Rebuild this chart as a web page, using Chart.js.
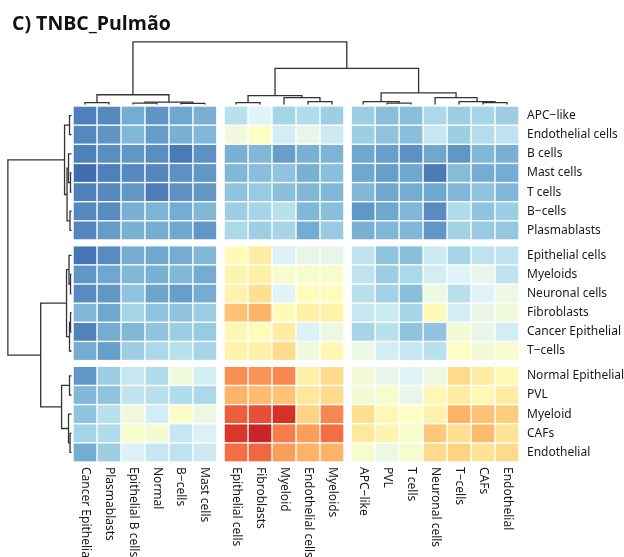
<!DOCTYPE html>
<html>
<head>
<meta charset="utf-8">
<script src="https://cdn.jsdelivr.net/npm/chart.js@4.4.0/dist/chart.umd.min.js"></script>
<style>
  html, body { margin: 0; padding: 0; background: #fff; }
  #wrap { width: 624px; height: 557px; }
</style>
</head>
<body>
<div id="wrap"><canvas id="heatChart" width="624" height="557"></canvas></div>
<script>
const title = 'C) TNBC_Pulmão';

const rowLabels = ['APC−like', 'Endothelial cells', 'B cells', 'Mast cells', 'T cells', 'B−cells', 'Plasmablasts',
  'Epithelial cells', 'Myeloids', 'Neuronal cells', 'Fibroblasts', 'Cancer Epithelial', 'T−cells',
  'Normal Epithelial', 'PVL', 'Myeloid', 'CAFs', 'Endothelial'];
const colLabels = ['Cancer Epithelial', 'Plasmablasts', 'Epithelial B cells', 'Normal', 'B−cells', 'Mast cells',
  'Epithelial cells', 'Fibroblasts', 'Myeloid', 'Endothelial cells', 'Myeloids',
  'APC−like', 'PVL', 'T cells', 'Neuronal cells', 'T−cells', 'CAFs', 'Endothelial'];

// cluster cut of rows / columns (the white gaps)
const rowBlocks = [0,0,0,0,0,0,0, 1,1,1,1,1,1, 2,2,2,2,2];
const colBlocks = [0,0,0,0,0,0, 1,1,1,1,1, 2,2,2,2,2,2,2];

// one row per rowLabels entry, one value per colLabels entry
const values = [
  [-0.76,-0.73,-0.60,-0.69,-0.62,-0.58, -0.35,-0.20,-0.42,-0.38,-0.45, -0.45,-0.52,-0.52,-0.40,-0.45,-0.42,-0.45],
  [-0.73,-0.69,-0.55,-0.66,-0.58,-0.55, -0.10,-0.02,-0.25,-0.15,-0.27, -0.45,-0.50,-0.52,-0.30,-0.45,-0.37,-0.33],
  [-0.76,-0.71,-0.68,-0.71,-0.78,-0.70, -0.58,-0.55,-0.65,-0.58,-0.57, -0.62,-0.65,-0.70,-0.62,-0.68,-0.55,-0.58],
  [-0.83,-0.76,-0.73,-0.74,-0.70,-0.68, -0.55,-0.52,-0.50,-0.58,-0.52, -0.62,-0.65,-0.62,-0.78,-0.53,-0.60,-0.60],
  [-0.76,-0.73,-0.68,-0.77,-0.70,-0.68, -0.50,-0.47,-0.52,-0.55,-0.55, -0.55,-0.62,-0.60,-0.62,-0.55,-0.50,-0.55],
  [-0.73,-0.72,-0.58,-0.57,-0.60,-0.55, -0.45,-0.42,-0.35,-0.55,-0.52, -0.68,-0.62,-0.55,-0.72,-0.38,-0.50,-0.45],
  [-0.74,-0.66,-0.58,-0.60,-0.62,-0.68, -0.40,-0.45,-0.42,-0.60,-0.47, -0.58,-0.55,-0.55,-0.68,-0.43,-0.47,-0.48],
  [-0.80,-0.72,-0.60,-0.62,-0.60,-0.55,  0.03, 0.12,-0.22,-0.15,-0.15, -0.33,-0.50,-0.52,-0.28,-0.42,-0.33,-0.33],
  [-0.68,-0.62,-0.55,-0.58,-0.55,-0.60,  0.07, 0.10,-0.05,-0.05,-0.05, -0.32,-0.45,-0.40,-0.25,-0.20,-0.15,-0.32],
  [-0.72,-0.68,-0.50,-0.63,-0.65,-0.60,  0.08, 0.20,-0.20, 0.02, 0.02, -0.35,-0.43,-0.52,-0.12,-0.35,-0.20,-0.12],
  [-0.55,-0.62,-0.42,-0.50,-0.50,-0.45,  0.32, 0.38, 0.03, 0.10, 0.08, -0.30,-0.28,-0.42, 0.03,-0.25,-0.13,-0.10],
  [-0.75,-0.60,-0.55,-0.50,-0.45,-0.47,  0.05, 0.02, 0.12,-0.22,-0.12, -0.42,-0.35,-0.50,-0.50,-0.08,-0.15,-0.25],
  [-0.60,-0.65,-0.45,-0.40,-0.35,-0.42,  0.08, 0.10, 0.22,-0.10, 0.05, -0.12,-0.25,-0.30,-0.35,-0.02,-0.08,-0.06],
  [-0.68,-0.45,-0.30,-0.38,-0.10,-0.25,  0.50, 0.48, 0.52, 0.10, 0.22, -0.08,-0.15,-0.20,-0.12, 0.22, 0.12, 0.05],
  [-0.55,-0.50,-0.32,-0.35,-0.38,-0.40,  0.38, 0.35, 0.32, 0.15, 0.22, -0.08,-0.05,-0.15, 0.05, 0.12, 0.05, 0.12],
  [-0.50,-0.35,-0.10,-0.25,-0.03,-0.12,  0.65, 0.70, 0.80, 0.25, 0.52,  0.20, 0.05,-0.02, 0.08, 0.38, 0.32, 0.28],
  [-0.42,-0.38,-0.05,-0.07,-0.30,-0.22,  0.78, 0.85, 0.55, 0.45, 0.60,  0.15, 0.07,-0.05, 0.30, 0.20, 0.35, 0.18],
  [-0.60,-0.45,-0.22,-0.30,-0.33,-0.27,  0.60, 0.62, 0.45, 0.38, 0.38, -0.05,-0.12,-0.05, 0.22, 0.25, 0.18, 0.22]
];

// linkage like scipy: [a, b, height]; ids >= 18 point to earlier merges (18 + index)
const colLinkage = [
  [2, 3, 0.15], [4, 5, 0.12], [0, 1, 0.2], [18, 19, 0.25], [20, 21, 1.0],
  [6, 7, 0.2], [9, 10, 0.3], [8, 24, 0.7], [23, 25, 0.9],
  [12, 13, 0.15], [11, 27, 0.3], [16, 17, 0.2], [15, 29, 0.3], [14, 30, 0.7], [28, 31, 1.2],
  [26, 32, 3.7], [22, 33, 6.4]
];
const rowLinkage = [
  [0, 1, 0.2], [3, 4, 0.1], [2, 19, 0.3], [5, 6, 0.15], [20, 21, 0.45], [18, 22, 0.7],
  [8, 9, 0.1], [7, 24, 0.25], [10, 11, 0.1], [26, 12, 0.2], [25, 27, 0.5],
  [13, 14, 0.2], [16, 17, 0.15], [15, 30, 0.3], [29, 31, 1.0],
  [28, 32, 3.1], [23, 33, 6.4]
];

const GAP = 0.3;
const colPos = i => i + colBlocks[i] * GAP;
const rowPos = i => i + rowBlocks[i] * GAP;

// RdYlBu reversed
const stops = ['#313695', '#4575b4', '#74add1', '#abd9e9', '#e0f3f8', '#ffffbf',
  '#fee090', '#fdae61', '#f46d43', '#d73027', '#a50026'];
function hex(c) { return [1, 3, 5].map(k => parseInt(c.slice(k, k + 2), 16)); }
function colorFor(v) {
  let t = Math.min(1, Math.max(0, (v + 1) / 2)) * (stops.length - 1);
  const i = Math.min(stops.length - 2, Math.floor(t));
  const f = t - i;
  const a = hex(stops[i]), b = hex(stops[i + 1]);
  const c = a.map((x, k) => Math.round(x + (b[k] - x) * f));
  return `rgb(${c[0]},${c[1]},${c[2]})`;
}

// build dendrogram links as U shapes
function dendroSegments(linkage, leafPos, n) {
  const pos = [], hgt = [], segs = [];
  for (let i = 0; i < n; i++) { pos[i] = leafPos(i) + 0.5; hgt[i] = 0; }
  linkage.forEach(([a, b, h], k) => {
    segs.push([[pos[a], hgt[a]], [pos[a], h], [pos[b], h], [pos[b], hgt[b]]]);
    pos[n + k] = (pos[a] + pos[b]) / 2;
    hgt[n + k] = h;
  });
  return segs;
}

const lineStyle = { showLine: true, pointRadius: 0, borderColor: '#333', borderWidth: 1.3, clip: false, tension: 0 };
const datasets = [];
dendroSegments(colLinkage, colPos, colLabels.length).forEach(s => {
  datasets.push({ ...lineStyle, xAxisID: 'x', yAxisID: 'yd', data: s.map(p => ({ x: p[0], y: p[1] })) });
});
dendroSegments(rowLinkage, rowPos, rowLabels.length).forEach(s => {
  datasets.push({ ...lineStyle, xAxisID: 'xd', yAxisID: 'y', data: s.map(p => ({ x: p[1], y: p[0] })) });
});

const heatmapPlugin = {
  id: 'heatmap',
  beforeDatasetsDraw(chart) {
    const { ctx, scales: { x, y } } = chart;
    ctx.save();
    values.forEach((row, r) => {
      row.forEach((v, c) => {
        const x0 = x.getPixelForValue(colPos(c)), x1 = x.getPixelForValue(colPos(c) + 1);
        const y0 = y.getPixelForValue(rowPos(r)), y1 = y.getPixelForValue(rowPos(r) + 1);
        ctx.fillStyle = colorFor(v);
        ctx.fillRect(x0 + 0.7, y0 + 0.7, x1 - x0 - 1.4, y1 - y0 - 1.4);
      });
    });
    ctx.restore();
  },
  afterDraw(chart) {
    const { ctx, chartArea, scales: { x, y } } = chart;
    ctx.save();
    ctx.fillStyle = '#111';
    ctx.font = 'bold 19.5px "Open Sans"';
    ctx.textBaseline = 'alphabetic';
    ctx.fillText(title, 12, 30);

    ctx.font = '12px "Noto Sans"';
    ctx.textBaseline = 'middle';
    ctx.textAlign = 'left';
    ctx.fillStyle = '#1a1a1a';
    rowLabels.forEach((lab, r) => {
      ctx.fillText(lab, chartArea.right + 8, y.getPixelForValue(rowPos(r) + 0.5));
    });
    colLabels.forEach((lab, c) => {
      ctx.save();
      ctx.translate(x.getPixelForValue(colPos(c) + 0.5), chartArea.bottom + 5);
      ctx.rotate(Math.PI / 2);
      ctx.fillText(lab, 0, 0);
      ctx.restore();
    });
    ctx.restore();
  }
};

new Chart(document.getElementById('heatChart').getContext('2d'), {
  type: 'scatter',
  data: { datasets },
  options: {
    responsive: false,
    animation: false,
    layout: { padding: { left: 73, right: 105, top: 106, bottom: 95 } },
    plugins: { legend: { display: false }, tooltip: { enabled: false } },
    scales: {
      x: { type: 'linear', display: false, min: 0, max: colLabels.length + 2 * GAP },
      y: { type: 'linear', display: false, reverse: true, min: 0, max: rowLabels.length + 2 * GAP },
      xd: { axis: 'x', type: 'linear', display: false, reverse: true, min: -45, max: -0.15 },
      yd: { axis: 'y', type: 'linear', display: false, min: -36.5, max: -0.15 }
    }
  },
  plugins: [heatmapPlugin]
});
</script>
</body>
</html>
